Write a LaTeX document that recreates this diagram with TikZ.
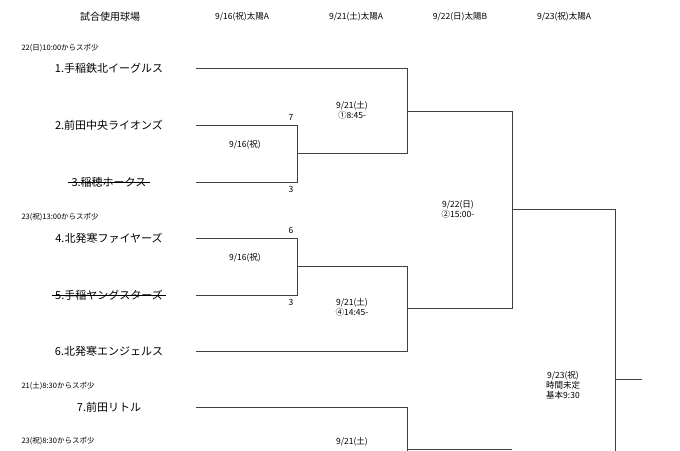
\documentclass[tikz,border=0pt]{standalone}
\usepackage{fontspec}
\setmainfont{Noto Sans CJK JP}
\usetikzlibrary{positioning}

\begin{document}
\begin{tikzpicture}
    [x=1pt,y=-1pt,
    team/.style={font=\fontsize{11}{12}\selectfont},
    note/.style={anchor=west,font=\fontsize{7.5}{9}\selectfont},
    head/.style={font=\fontsize{8.5}{10}\selectfont},
    info/.style={align=center,font=\fontsize{8.5}{10}\selectfont},
    score/.style={font=\fontsize{8.5}{10}\selectfont},
    line/.style={draw=black!75,line width=0.9pt},
    ]
    \useasboundingbox (0,0) rectangle (680,450);

    % headers
    \node[head,font=\fontsize{10}{12}\selectfont] at (110,17) (h0) {試合使用球場};
    \node[head] at (242,17) (h1) {9/16(祝)太陽A};
    \node[head] at (356,17) (h2) {9/21(土)太陽A};
    \node[head] at (460,17) (h3) {9/22(日)太陽B};
    \node[head] at (564,17) (h4) {9/23(祝)太陽A};

    % notes
    \node[note] at (18,48) (n1) {22(日)10:00からスポ少};
    \node[note] at (18,217) (n2) {23(祝)13:00からスポ少};
    \node[note] at (18,386) (n3) {21(土)8:30からスポ少};
    \node[note] at (18,441) (n4) {23(祝)8:30からスポ少};

    % teams
    \node[team] at (109,68) (t1) {1.手稲鉄北イーグルス};
    \node[team] at (109,125) (t2) {2.前田中央ライオンズ};
    \node[team] at (109,182) (t3) {3.稲穂ホークス};
    \node[team] at (109,238) (t4) {4.北発寒ファイヤーズ};
    \node[team] at (109,295) (t5) {5.手稲ヤングスターズ};
    \node[team] at (109,351) (t6) {6.北発寒エンジェルス};
    \node[team] at (109,407) (t7) {7.前田リトル};
    \draw (t3.west) -- (t3.east);
    \draw (t5.west) -- (t5.east);

    % bracket
    \draw[line] (196,68) -- (407,68) -- (407,153) -- (297,153);
    \draw[line] (196,125) -- (297,125) -- (297,182) -- (196,182);
    \draw[line] (407,111) -- (512,111) -- (512,308) -- (407,308);
    \draw[line] (196,238) -- (297,238) -- (297,295) -- (196,295);
    \draw[line] (297,266) -- (407,266) -- (407,351) -- (196,351);
    \draw[line] (512,209) -- (615,209) -- (615,452);
    \draw[line] (615,379) -- (642,379);
    \draw[line] (196,407) -- (407,407) -- (407,452);
    \draw[line] (407,449) -- (512,449);

    % scores
    \node[score] at (291,117) (s2) {7};
    \node[score] at (291,189) (s3) {3};
    \node[score] at (291,230) (s4) {6};
    \node[score] at (291,302) (s5) {3};

    % game info
    \node[info] at (245,145) (g1) {9/16(祝)};
    \node[info] at (245,258) (g2) {9/16(祝)};
    \node[info] at (352,110) (g3) {9/21(土)\\①8:45-};
    \node[info] at (352,307) (g4) {9/21(土)\\④14:45-};
    \node[info] at (458,209) (g5) {9/22(日)\\②15:00-};
    \node[info] at (563,385) (g6) {9/23(祝)\\時間未定\\基本9:30};
    \node[info] at (352,442) (g7) {9/21(土)};
\end{tikzpicture}
\end{document}
